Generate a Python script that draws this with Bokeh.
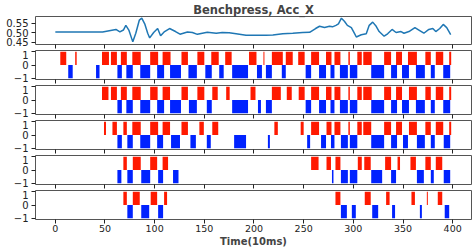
from bokeh.plotting import figure
from bokeh.layouts import column
from bokeh.models import Range1d, FixedTicker, PrintfTickFormatter
from bokeh.embed import file_html
from bokeh.resources import INLINE

title_text = "Benchpress, Acc_X"
x_label = "Time(10ms)"
x_ticks = [0, 50, 100, 150, 200, 250, 300, 350, 400]
top_y_ticks = [0.45, 0.50, 0.55]
bin_y_ticks = [-1, 0, 1]

signal_t = [0, 47.6, 61, 65, 68.5, 71, 74, 78, 81, 84.6, 87, 90, 93, 95, 99, 103, 106, 110,
            115, 121, 125.5, 133, 138, 143, 148, 153, 162, 168, 175, 182, 192, 202, 212,
            219, 229, 239, 249, 256, 262, 266, 271, 276, 279, 282.5, 285, 288, 291, 294,
            298, 301, 303, 308, 313, 316, 319.5, 323, 326, 331, 334.5, 339, 343, 348, 351,
            356, 362, 366, 371, 376, 380, 383, 387, 390.5, 394, 398]
signal_v = [0.505, 0.505, 0.518, 0.505, 0.515, 0.54, 0.515, 0.452, 0.498, 0.568, 0.578, 0.548,
            0.498, 0.473, 0.502, 0.523, 0.485, 0.507, 0.523, 0.507, 0.493, 0.505, 0.502,
            0.492, 0.498, 0.503, 0.498, 0.502, 0.500, 0.495, 0.487, 0.487, 0.487, 0.488,
            0.495, 0.498, 0.502, 0.503, 0.523, 0.535, 0.528, 0.535, 0.532, 0.540, 0.548,
            0.578, 0.562, 0.540, 0.528, 0.498, 0.478, 0.490, 0.495, 0.540, 0.557, 0.535,
            0.507, 0.482, 0.495, 0.518, 0.502, 0.507, 0.498, 0.507, 0.528, 0.515, 0.498,
            0.518, 0.523, 0.507, 0.523, 0.545, 0.528, 0.490]

red_1 = [(5, 11), (20, 21.5), (47, 54), (56, 62), (66, 72), (77.5, 86), (95.5, 103.5),
         (108, 116), (127, 133.5), (143, 150), (157, 164.5), (171, 177.5), (195, 202.5),
         (209.5, 210.5), (218, 229), (232, 239), (244.5, 251), (257.5, 265.5), (272.5, 278),
         (281, 287), (295, 296.5), (304, 308.5), (310, 318.5), (331, 338), (343, 349),
         (355, 364), (372.5, 378), (383, 390.5), (396.5, 398.5)]
blue_1 = [(13, 17.5), (41, 44.5), (62.5, 67), (71.5, 78), (85.5, 95.5), (102.5, 109.5),
          (115.5, 126.5), (134, 142.5), (151, 157.5), (165, 169.5), (178, 194), (203, 208),
          (212, 218), (228, 232), (252, 257.5), (265.5, 272.5), (277, 281), (286.5, 294.5),
          (296.5, 304), (318, 331), (338, 344), (349, 356), (363, 372), (378, 382),
          (390.5, 397.5)]

red_2 = [(47, 53.5), (56, 62), (66, 72), (77.5, 86), (95.5, 103), (108, 115.5), (127, 133.5),
         (143, 150), (158, 163.5), (172, 175.5), (196.5, 201.5), (218, 227), (233, 238),
         (245, 251), (257.5, 265.5), (272.5, 278), (281, 287), (295, 296.5), (304, 308.5),
         (310, 318.5), (331, 338), (343, 349), (356, 364), (372.5, 378), (383, 390.5),
         (396.5, 398.5)]
blue_2 = [(62.5, 67), (71.5, 78), (85.5, 95.5), (102.5, 109.5), (115.5, 126.5), (134.5, 142.5),
          (152.5, 157.5), (178, 194), (204, 207), (212, 218), (252, 257.5), (265.5, 272.5),
          (277, 281), (286.5, 294.5), (296.5, 304), (318, 331), (338, 344), (349, 356),
          (363, 372), (378, 382), (390.5, 397.5)]

red_3 = [(49, 51), (57.5, 62), (68.5, 72), (77.5, 86), (95.5, 103.5), (108, 115.5),
         (127, 133.5), (145, 149.5), (158, 164), (220.5, 224), (247, 250), (257.5, 265.5),
         (273, 278), (281, 287), (295, 296.5), (304, 308.5), (310, 318), (331, 338),
         (343, 349), (356, 364), (372.5, 378), (383, 390.5), (396.5, 398.5)]
blue_3 = [(62.5, 67), (72.5, 78), (85.5, 95.5), (102.5, 108.5), (116.5, 125.5), (136, 141.5),
          (152.5, 156.5), (180, 192), (214, 216), (253.5, 256.5), (267.5, 272.5), (277.5, 281),
          (287.5, 294.5), (296.5, 304), (318, 331), (338, 344), (350, 355), (364, 372),
          (378, 382), (391, 397.5)]

red_4 = [(68.5, 72), (78, 86), (95.5, 102.5), (108, 113.5), (257.5, 265), (273, 277.5),
         (282, 287), (304.5, 308.5), (311, 317.5), (332, 338), (344.5, 347), (357.5, 363),
         (372.5, 378), (383, 389.5)]
blue_4 = [(62.5, 66.5), (72.5, 78), (86.5, 95.5), (103.5, 108.5), (118.5, 124), (278.5, 280),
          (287.5, 294.5), (296.5, 304), (318, 329), (338, 343), (364, 371), (378, 381),
          (391, 397.5)]

red_5 = [(68.5, 72), (78, 85), (96, 102.5), (109.5, 112.5), (282, 287), (311.5, 317.5),
         (333, 336.5), (358.5, 362), (374, 375), (385, 389.5)]
blue_5 = [(72.5, 78), (86.5, 94.5), (103.5, 108.5), (287.5, 293.5), (298.5, 302.5),
          (319, 325), (339, 342), (367, 369), (392, 396.5)]

FONT = "DejaVu Sans"
RED = "#ff1a00"
BLUE = "#0022ff"
x_range = Range1d(-19.95, 418.95)


def base_fig(y_range, top, bottom, fh=29, last=False):
    p = figure(frame_width=436, frame_height=fh, x_range=x_range, y_range=y_range,
               output_backend="svg", toolbar_location=None,
               min_border_left=35, min_border_right=1,
               min_border_top=top, min_border_bottom=bottom)
    p.grid.visible = False
    p.outline_line_color = "#555555"
    p.outline_line_width = 1
    p.background_fill_color = "white"
    p.border_fill_color = "white"
    for ax in (p.xaxis, p.yaxis):
        ax.axis_line_color = None
        ax.major_tick_out = 4
        ax.major_tick_in = 0
        ax.minor_tick_out = 4
        ax.minor_tick_in = 0
        ax.minor_tick_line_color = None
        ax.major_tick_line_color = "#222222"
        ax.major_label_text_font = FONT
        ax.major_label_text_color = "#222222"
    p.yaxis.major_label_text_font_size = "10px"
    p.yaxis.major_label_standoff = 3
    if not last:
        # tick marks only (no labels) on the shared x axes above the last one
        p.xaxis.ticker = FixedTicker(ticks=[], minor_ticks=x_ticks)
        p.xaxis.minor_tick_line_color = "#222222"
        p.xaxis.major_label_standoff = 0
    else:
        p.xaxis.ticker = FixedTicker(ticks=x_ticks)
        p.xaxis.major_label_text_font_size = "9.5px"
        p.xaxis.major_label_standoff = 1
        p.xaxis.axis_label = x_label
        p.xaxis.axis_label_text_font = FONT
        p.xaxis.axis_label_text_font_style = "bold"
        p.xaxis.axis_label_text_font_size = "10px"
        p.xaxis.axis_label_standoff = 1
    return p


figs = []
p0 = base_fig(Range1d(0.438, 0.587), 14, 6, fh=28)
p0.title.text = title_text
p0.title.align = "center"
p0.title.text_font = FONT
p0.title.text_font_style = "bold"
p0.title.text_font_size = "11.5px"
p0.title.offset = -6
p0.title.standoff = 0
p0.line(signal_t, signal_v, line_color="#1f77b4", line_width=1.5)
p0.yaxis.ticker = FixedTicker(ticks=top_y_ticks)
p0.yaxis.formatter = PrintfTickFormatter(format="%.2f")
figs.append(p0)

rows = [(red_1, blue_1), (red_2, blue_2), (red_3, blue_3), (red_4, blue_4), (red_5, blue_5)]
for i, (reds, blues) in enumerate(rows):
    last = i == len(rows) - 1
    p = base_fig(Range1d(-1.1, 1.1), 0, 29 if last else 6, last=last)
    p.quad(left=[a for a, b in reds], right=[b for a, b in reds],
           bottom=[0] * len(reds), top=[1] * len(reds),
           fill_color=RED, line_color=None)
    p.quad(left=[a for a, b in blues], right=[b for a, b in blues],
           bottom=[-1] * len(blues), top=[0] * len(blues),
           fill_color=BLUE, line_color=None)
    p.yaxis.ticker = FixedTicker(ticks=bin_y_ticks)
    p.yaxis.major_label_overrides = {-1: "\u22121", 0: "0", 1: "1"}
    figs.append(p)

layout = column(*figs, spacing=0,
                styles={"position": "absolute", "top": "0px", "left": "0px"})
open("out.html", "w").write(file_html(layout, INLINE))
